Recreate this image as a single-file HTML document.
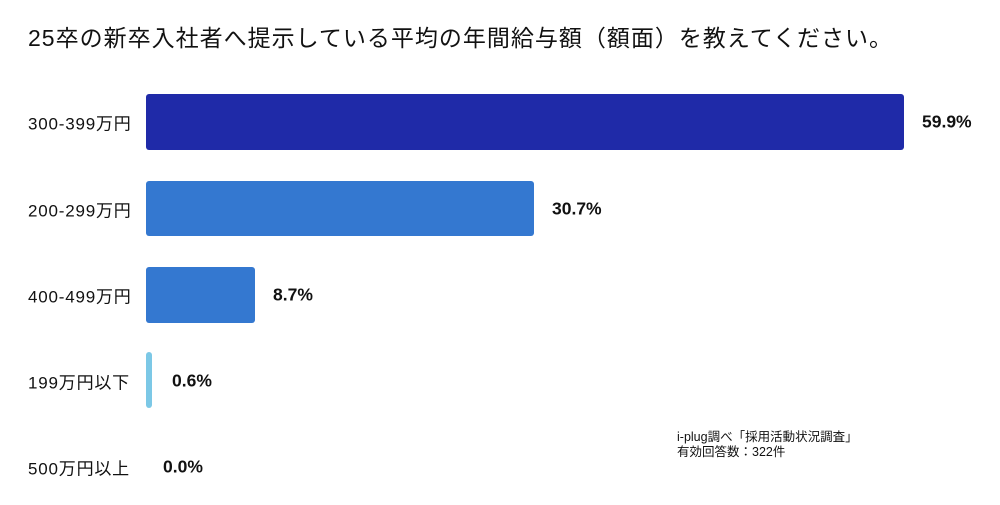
<!DOCTYPE html>
<html><head><meta charset="utf-8"><style>
body{margin:0;width:1000px;height:505px;background:#fff;position:relative;overflow:hidden;font-family:"Liberation Sans","Noto Sans CJK JP",sans-serif;color:#111}
.t{position:absolute;left:28px;top:19px;font-size:23px;letter-spacing:1px;white-space:nowrap}
.l{position:absolute;left:28px;font-size:17px;letter-spacing:0.8px;transform:translateY(-50%);white-space:nowrap}
.b{position:absolute;left:146px;border-radius:3px}
.v{position:absolute;font-size:17.5px;font-weight:bold;transform:translateY(-50%)}
.n{position:absolute;left:677px;top:430px;font-size:12.5px;line-height:15px;white-space:nowrap}
</style></head><body>
<div class="t">25卒の新卒入社者へ提示している平均の年間給与額（額面）を教えてください。</div>
<div class="l" style="top:122px">300-399万円</div>
<div class="b" style="top:94px;height:56px;width:758px;background:#1f2aa8"></div>
<div class="v" style="top:122px;left:922px">59.9%</div>
<div class="l" style="top:209px">200-299万円</div>
<div class="b" style="top:181px;height:55px;width:388px;background:#3478d0"></div>
<div class="v" style="top:209px;left:552px">30.7%</div>
<div class="l" style="top:295px">400-499万円</div>
<div class="b" style="top:267px;height:56px;width:109px;background:#3478d0"></div>
<div class="v" style="top:295px;left:273px">8.7%</div>
<div class="l" style="top:381px">199万円以下</div>
<div class="b" style="top:352px;height:56px;width:6px;background:#7cc8e6"></div>
<div class="v" style="top:381px;left:172px">0.6%</div>
<div class="l" style="top:467px">500万円以上</div>
<div class="v" style="top:467px;left:163px">0.0%</div>
<div class="n">i-plug調べ「採用活動状況調査」<br>有効回答数：322件</div>
</body></html>
